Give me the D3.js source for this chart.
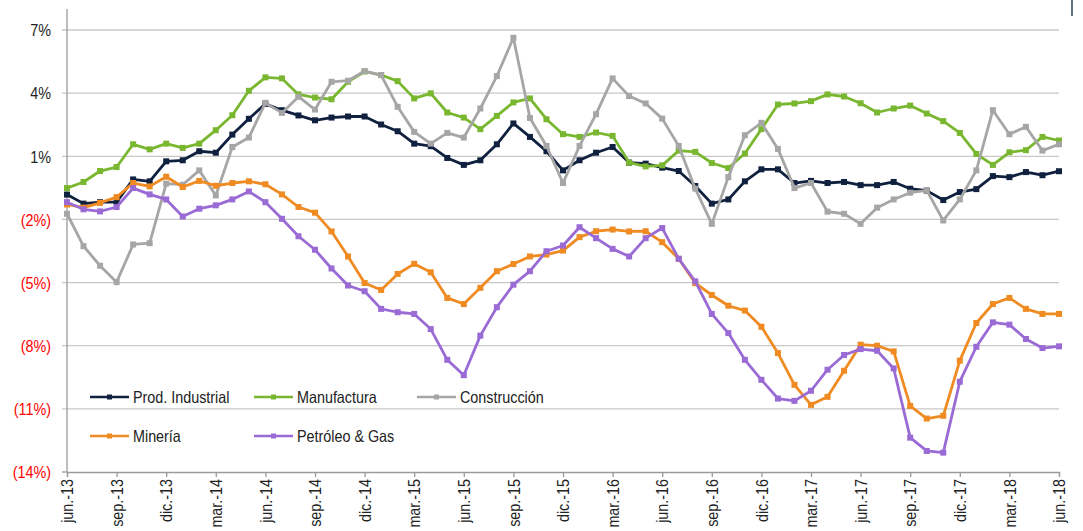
<!DOCTYPE html>
<html>
<head>
<meta charset="utf-8">
<script src="https://cdn.jsdelivr.net/npm/d3@7"></script>
<style>
  body { margin: 0; background: #fff; }
  svg { display: block; font-family: "Liberation Sans", Arial, sans-serif; }
</style>
</head>
<body>
<div id="chart"></div>
<script>
// quarterly tick labels, jun.-13 .. jun.-18 (monthly data, 61 points)
var tickLabels = ["jun.-13","sep.-13","dic.-13","mar.-14","jun.-14","sep.-14","dic.-14",
  "mar.-15","jun.-15","sep.-15","dic.-15","mar.-16","jun.-16","sep.-16","dic.-16",
  "mar.-17","jun.-17","sep.-17","dic.-17","mar.-18","jun.-18"];

var yTicks = [7, 4, 1, -2, -5, -8, -11, -14];

var seriesNames = ["Prod. Industrial", "Manufactura", "Construcción", "Minería", "Petróleo & Gas"];

var prodIndustrial = [-0.82,-1.25,-1.18,-1.18,-0.10,-0.19,0.76,0.81,1.24,1.17,
  2.03,2.78,3.49,3.19,2.94,2.71,2.84,2.89,2.89,2.51,
  2.19,1.60,1.48,0.92,0.59,0.81,1.57,2.56,1.92,1.24,
  0.33,0.81,1.17,1.44,0.70,0.65,0.46,0.30,-0.41,-1.25,
  -1.05,-0.19,0.38,0.38,-0.27,-0.17,-0.27,-0.22,-0.37,-0.37,
  -0.22,-0.54,-0.63,-1.08,-0.70,-0.56,0.06,0.01,0.25,0.10,0.29];

var manufactura = [-0.51,-0.22,0.30,0.49,1.57,1.33,1.60,1.40,1.60,2.24,
  2.95,4.11,4.75,4.70,3.94,3.79,3.71,4.54,5.03,4.86,
  4.57,3.75,3.99,3.08,2.84,2.29,2.92,3.56,3.75,2.76,
  2.05,1.92,2.13,1.97,0.70,0.52,0.57,1.27,1.21,0.68,
  0.44,1.13,2.29,3.46,3.51,3.62,3.94,3.84,3.52,3.08,
  3.27,3.41,3.03,2.67,2.11,1.11,0.59,1.19,1.29,1.92,1.75];

var construccion = [-1.73,-3.27,-4.20,-4.98,-3.19,-3.13,-0.30,-0.35,0.33,-0.86,
  1.44,1.89,3.54,3.06,3.83,3.22,4.54,4.59,5.05,4.86,
  3.35,2.16,1.60,2.11,1.89,3.27,4.81,6.63,2.82,1.49,
  -0.27,1.49,3.00,4.70,3.86,3.51,2.79,1.49,-0.54,-2.21,
  0.01,2.00,2.59,1.35,-0.51,-0.27,-1.63,-1.73,-2.21,-1.44,
  -1.05,-0.73,-0.62,-2.05,-1.05,0.33,3.19,2.05,2.40,1.27,1.57];

var mineria = [-1.29,-1.44,-1.21,-0.94,-0.27,-0.43,0.03,-0.46,-0.17,-0.40,
  -0.27,-0.19,-0.33,-0.81,-1.41,-1.68,-2.57,-3.76,-5.02,-5.35,
  -4.59,-4.11,-4.51,-5.73,-6.02,-5.25,-4.46,-4.12,-3.76,-3.67,
  -3.48,-2.84,-2.56,-2.48,-2.57,-2.56,-3.08,-3.87,-5.03,-5.59,
  -6.10,-6.33,-7.10,-8.35,-9.86,-10.81,-10.43,-9.19,-7.95,-8.00,
  -8.27,-10.86,-11.46,-11.33,-8.71,-6.92,-6.02,-5.73,-6.25,-6.49,-6.49];

var petroleoGas = [-1.18,-1.52,-1.62,-1.41,-0.51,-0.81,-1.05,-1.86,-1.49,-1.33,
  -1.05,-0.67,-1.18,-1.97,-2.80,-3.44,-4.33,-5.14,-5.41,-6.25,
  -6.41,-6.49,-7.21,-8.67,-9.40,-7.52,-6.17,-5.10,-4.46,-3.51,
  -3.24,-2.37,-2.89,-3.40,-3.76,-2.89,-2.41,-3.87,-4.94,-6.49,
  -7.40,-8.67,-9.62,-10.51,-10.62,-10.14,-9.14,-8.44,-8.16,-8.24,
  -9.08,-12.37,-13.00,-13.08,-9.71,-8.05,-6.89,-7.00,-7.68,-8.11,-8.03];

var colors = ["#10213f", "#7ab730", "#a6a6a6", "#ef8b22", "#9a6bd5"];

var width = 1083, height = 531;
var margin = {left: 67, right: 24, top: 30, bottom: 59};
var sx = 0.87; // text is a bit condensed in the original

var svg = d3.select("#chart").append("svg")
  .attr("width", width)
  .attr("height", height);

var allSeries = [prodIndustrial, manufactura, construccion, mineria, petroleoGas];

var x = d3.scaleLinear()
  .domain([0, prodIndustrial.length - 1])
  .range([margin.left, width - margin.right]);

var y = d3.scaleLinear()
  .domain([-14, 7])
  .range([height - margin.bottom, margin.top]);

// gridlines (with a short outside tick)
svg.append("g")
  .selectAll("line")
  .data(yTicks)
  .enter().append("line")
    .attr("x1", x(0) - 5)
    .attr("x2", function(d) { return d == -14 ? x(0) : x(60); })
    .attr("y1", function(d) { return y(d); })
    .attr("y2", function(d) { return y(d); })
    .attr("stroke", function(d) { return d == -14 ? "#9a9a9a" : "#c8c8c8"; })
    .attr("stroke-width", 1.3);

// y axis
var yAxis = svg.append("g")
  .attr("transform", "translate(" + margin.left + ",0)")
  .call(d3.axisLeft(y).tickValues(yTicks).tickSize(0)
    .tickFormat(function(d) { return d < 0 ? "(" + (-d) + "%)" : d + "%"; }));
yAxis.select(".domain").remove();
yAxis.append("line")
  .attr("y1", 9).attr("y2", y(-14))
  .attr("stroke", "#9a9a9a").attr("stroke-width", 1.3);
yAxis.selectAll("text")
  .attr("x", -16 / sx)
  .attr("dy", "0.35em")
  .attr("transform", "scale(" + sx + ",1)")
  .attr("font-size", "16.5px")
  .attr("font-family", "Liberation Sans, Arial, sans-serif")
  .attr("fill", function(d) { return d < 0 ? "#ff0000" : "#222"; });

// x axis
var xAxis = svg.append("g")
  .attr("transform", "translate(0," + y(-14) + ")")
  .call(d3.axisBottom(x).tickValues(d3.range(0, 61, 3)).tickSize(5)
    .tickFormat(function(d) { return tickLabels[d / 3]; }));
xAxis.select(".domain").attr("stroke", "#9a9a9a").attr("stroke-width", 1.3);
xAxis.selectAll(".tick line").attr("stroke", "#9a9a9a").attr("stroke-width", 1.3);
xAxis.selectAll("text")
  .attr("x", -7 / sx)
  .attr("y", 0)
  .attr("dy", "0.35em")
  .attr("text-anchor", "end")
  .attr("transform", "rotate(-90) scale(" + sx + ",1)")
  .attr("font-size", "16.5px")
  .attr("font-family", "Liberation Sans, Arial, sans-serif")
  .attr("fill", "#222");

// lines
var line = d3.line()
  .x(function(d, i) { return x(i); })
  .y(function(d) { return y(d); });

var ms = 6;
allSeries.forEach(function(s, k) {
  var g = svg.append("g");
  g.append("path")
    .datum(s)
    .attr("d", line)
    .attr("fill", "none")
    .attr("stroke", colors[k])
    .attr("stroke-width", 2.8)
    .attr("stroke-linejoin", "round");
  g.selectAll("rect")
    .data(s)
    .enter().append("rect")
      .attr("x", function(d, i) { return x(i) - ms / 2; })
      .attr("y", function(d) { return y(d) - ms / 2; })
      .attr("width", ms)
      .attr("height", ms)
      .attr("fill", colors[k]);
});

// legend
var legendPos = [[90, 397], [254, 397], [417, 397], [90, 436], [254, 436]];
seriesNames.forEach(function(name, k) {
  var lg = svg.append("g")
    .attr("transform", "translate(" + legendPos[k][0] + "," + legendPos[k][1] + ")");
  lg.append("line")
    .attr("x1", 0).attr("x2", 39)
    .attr("stroke", colors[k])
    .attr("stroke-width", 2.5);
  lg.append("rect")
    .attr("x", 19.5 - 2.5).attr("y", -2.5)
    .attr("width", 5).attr("height", 5)
    .attr("fill", colors[k]);
  lg.append("text")
    .attr("transform", "translate(43,0) scale(" + sx + ",1)")
    .attr("dy", "0.35em")
    .attr("font-size", "16.5px")
    .attr("fill", "#222")
    .text(name);
});

// small mark at the top right corner
svg.append("line")
  .attr("x1", 1072).attr("x2", 1072)
  .attr("y1", 0).attr("y2", 16)
  .attr("stroke", "#10213f")
  .attr("stroke-width", 1.3);
</script>
</body>
</html>
